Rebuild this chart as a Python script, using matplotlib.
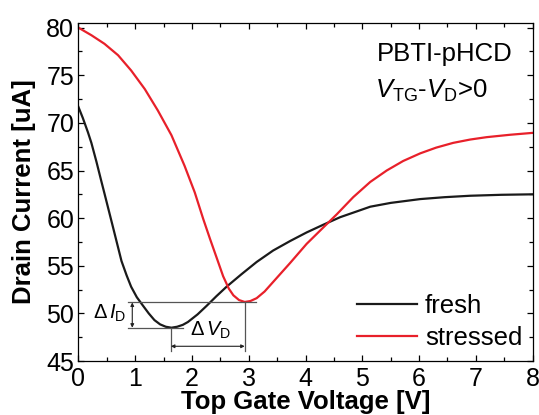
import matplotlib.pyplot as plt
from matplotlib.ticker import MultipleLocator

plt.rcParams['font.family'] = ['Liberation Sans', 'DejaVu Sans']
plt.rcParams['mathtext.fontset'] = 'custom'
plt.rcParams['mathtext.rm'] = 'Liberation Sans'
plt.rcParams['mathtext.it'] = 'Liberation Sans:italic'

# values
fresh_v = [0, 0.08, 0.17, 0.23, 0.32, 0.4, 0.46, 0.6, 0.76, 0.85, 0.93, 1.03, 1.14, 1.24,
           1.34, 1.44, 1.54, 1.64, 1.74, 1.84, 1.93, 2.1, 2.26, 2.43, 2.61, 2.87, 3.14,
           3.43, 3.73, 4.02, 4.31, 4.61, 4.9, 5.14, 5.5, 6.02, 6.45, 6.9, 7.45, 8.0]
fresh_i = [71.7, 70.5, 69.0, 67.9, 65.9, 64.0, 62.6, 59.3, 55.5, 54.0, 52.8, 51.7, 50.8, 50.0,
           49.3, 48.85, 48.6, 48.5, 48.6, 48.8, 49.1, 49.9, 50.8, 51.8, 52.8, 54.1, 55.4,
           56.6, 57.6, 58.5, 59.3, 60.1, 60.7, 61.2, 61.6, 62.0, 62.2, 62.35, 62.45, 62.5]

stressed_v = [0, 0.23, 0.46, 0.7, 0.93, 1.17, 1.4, 1.64, 1.87, 2.05, 2.2, 2.32, 2.45, 2.55,
              2.65, 2.73, 2.83, 2.93, 3.03, 3.14, 3.28, 3.43, 3.58, 3.73, 4.02, 4.31, 4.55,
              4.84, 5.14, 5.43, 5.72, 6.02, 6.3, 6.6, 6.9, 7.19, 7.6, 8.0]
stressed_i = [80.0, 79.2, 78.3, 77.1, 75.5, 73.55, 71.3, 68.7, 65.5, 62.7, 59.9, 57.8, 55.6, 53.9,
              52.6, 51.9, 51.4, 51.2, 51.3, 51.6, 52.3, 53.3, 54.3, 55.3, 57.3, 59.0, 60.4,
              62.2, 63.8, 65.0, 66.0, 66.8, 67.4, 67.9, 68.25, 68.5, 68.75, 68.95]

fig = plt.figure(figsize=(5.39, 4.15), dpi=100)
ax = fig.add_axes([0.1453, 0.130, 0.843, 0.815])

ax.plot(fresh_v, fresh_i, color='#1a1a1a', lw=1.6, label='fresh')
ax.plot(stressed_v, stressed_i, color='#e8202a', lw=1.6, label='stressed')

# delta annotations
gray = '#555555'
ax.plot([0.88, 3.12], [51.15, 51.15], color=gray, lw=0.9)
ax.plot([0.88, 1.84], [48.5, 48.5], color=gray, lw=0.9)
ax.plot([1.63, 1.63], [48.5, 46.1], color=gray, lw=0.9)
ax.plot([2.93, 2.93], [51.15, 46.1], color=gray, lw=0.9)
ax.annotate('', xy=(0.95, 48.5), xytext=(0.95, 51.15),
            arrowprops=dict(arrowstyle='<|-|>', color='#222222', lw=0.8,
                            mutation_scale=5, shrinkA=0, shrinkB=0))
ax.annotate('', xy=(1.63, 46.55), xytext=(2.93, 46.55),
            arrowprops=dict(arrowstyle='<|-|>', color='#222222', lw=0.8,
                            mutation_scale=5, shrinkA=0, shrinkB=0))
ax.text(0.26, 49.4, r'$\Delta\/I_{\rm D}$', fontsize=14.5, ha='left', va='baseline')
ax.text(1.97, 47.7, r'$\Delta\/V_{\rm D}$', fontsize=14.5, ha='left', va='baseline')

ax.text(7.65, 76.45, 'PBTI-pHCD', fontsize=18.5, ha='right', va='baseline')
ax.text(5.23, 72.65, r'$V_{\rm TG}$-$V_{\rm D}$>0', fontsize=18.5, ha='left', va='baseline')

ax.set_xlim(0, 8)
ax.set_ylim(45, 80.5)
ax.xaxis.set_major_locator(MultipleLocator(1))
ax.xaxis.set_minor_locator(MultipleLocator(0.5))
ax.yaxis.set_major_locator(MultipleLocator(5))
ax.yaxis.set_minor_locator(MultipleLocator(2.5))
ax.tick_params(which='both', direction='in', top=True, right=True, labelsize=18, width=0.9)
ax.tick_params(which='major', length=4.5)
ax.tick_params(which='minor', length=3)
ax.tick_params(axis='x', which='major', pad=4)
ax.tick_params(axis='y', which='major', pad=3)
for s in ax.spines.values():
    s.set_linewidth(0.9)

ax.set_xlabel('Top Gate Voltage [V]', fontsize=18.5, fontweight='bold', labelpad=-0.5)
ax.set_ylabel('Drain Current [uA]', fontsize=18.5, fontweight='bold', labelpad=7.5)

ax.legend(loc='center left', bbox_to_anchor=(0.6136, 0.115), frameon=False, fontsize=18.5,
          handlelength=2.33, handletextpad=0.31, labelspacing=0.3,
          borderpad=0, borderaxespad=0)

fig.savefig('out.png', dpi=100)
